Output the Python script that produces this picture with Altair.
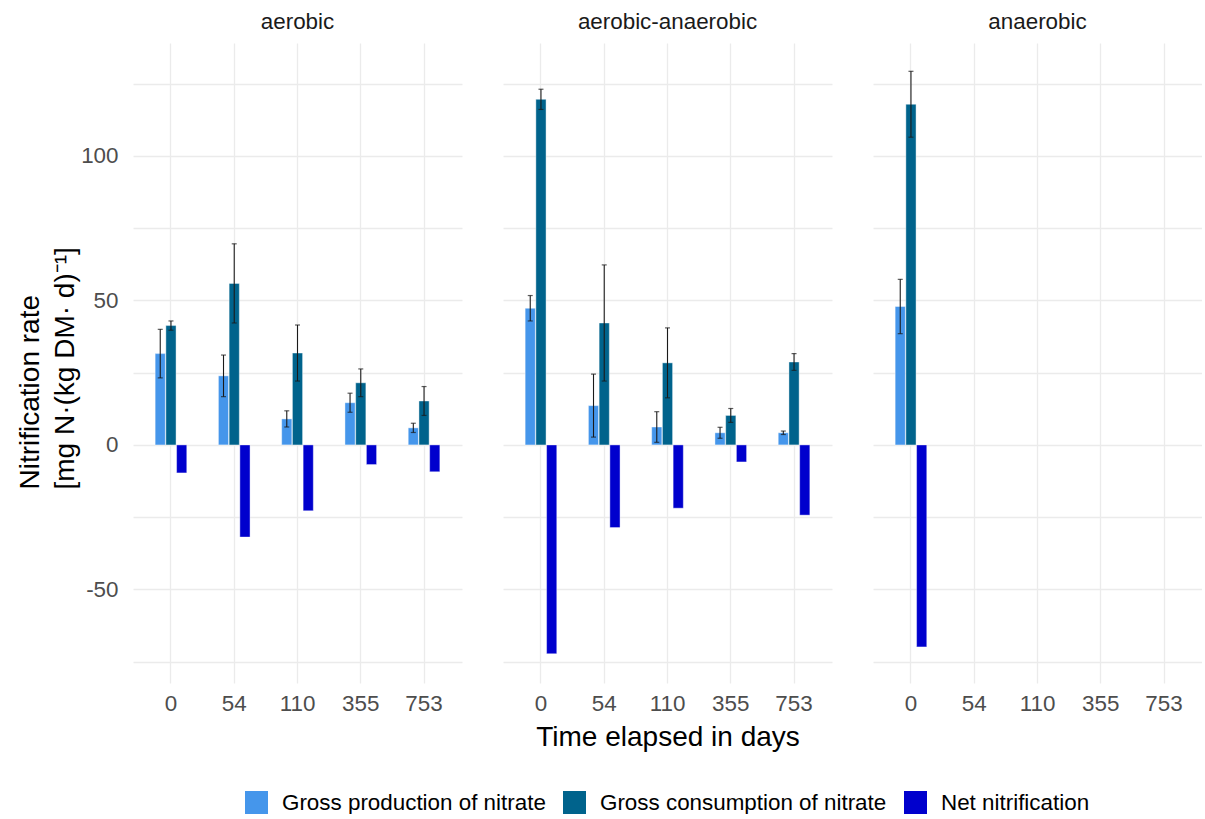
import altair as alt
import pandas as pd

treatments = ["aerobic", "aerobic-anaerobic", "anaerobic"]
days = ["0", "54", "110", "355", "753"]
series = ["Gross production of nitrate", "Gross consumption of nitrate", "Net nitrification"]
colors = ["#4596EB", "#00638C", "#0000CD"]

# aerobic
aer_prod = [31.6, 23.9, 9.0, 14.6, 5.9]
aer_prod_sd = [8.4, 7.2, 2.8, 3.3, 1.6]
aer_cons = [41.3, 55.9, 31.8, 21.5, 15.2]
aer_cons_sd = [1.6, 13.7, 9.7, 4.8, 5.0]
aer_net = [-9.7, -31.9, -22.8, -6.8, -9.3]

# aerobic-anaerobic
aa_prod = [47.3, 13.6, 6.2, 4.2, 4.2]
aa_prod_sd = [4.4, 10.9, 5.3, 1.9, 0.6]
aa_cons = [119.6, 42.2, 28.4, 10.2, 28.7]
aa_cons_sd = [3.5, 20.1, 12.1, 2.4, 2.9]
aa_net = [-72.3, -28.6, -21.9, -5.9, -24.3]

# anaerobic (day 0 only)
an_days = ["0"]
an_prod = [47.9]
an_prod_sd = [9.4]
an_cons = [117.9]
an_cons_sd = [11.4]
an_net = [-69.9]

rows = []
def add(treat, dlist, prod, psd, cons, csd, net):
    for i, d in enumerate(dlist):
        rows.append(dict(treatment=treat, day=d, variable=series[0], value=prod[i],
                         lo=prod[i] - psd[i], hi=prod[i] + psd[i]))
        rows.append(dict(treatment=treat, day=d, variable=series[1], value=cons[i],
                         lo=cons[i] - csd[i], hi=cons[i] + csd[i]))
        rows.append(dict(treatment=treat, day=d, variable=series[2], value=net[i],
                         lo=None, hi=None))

add(treatments[0], days, aer_prod, aer_prod_sd, aer_cons, aer_cons_sd, aer_net)
add(treatments[1], days, aa_prod, aa_prod_sd, aa_cons, aa_cons_sd, aa_net)
add(treatments[2], an_days, an_prod, an_prod_sd, an_cons, an_cons_sd, an_net)
df = pd.DataFrame(rows)

FONT = "Liberation Sans"
SMALL = 22.4
BIG = 28

x_enc = alt.X("day:N", scale=alt.Scale(domain=days, paddingInner=0.5, paddingOuter=0.35),
              axis=alt.Axis(title=None, labelAngle=0, ticks=False, domain=False,
                            labelFontSize=SMALL, labelColor="#4D4D4D", labelPadding=9,
                            grid=True, gridColor="#EBEBEB", gridWidth=1.3))
xo_enc = alt.XOffset("variable:N", scale=alt.Scale(domain=series, paddingInner=0.05))
y_scale = alt.Scale(domain=[-82.4, 139.1], nice=False, zero=False)
y_axis = alt.Axis(title=["Nitrification rate", "[mg N·(kg DM· d)⁻¹]"],
                  values=[-75, -50, -25, 0, 25, 50, 75, 100, 125],
                  labelExpr="datum.value % 50 == 0 ? toString(datum.value) : ''",
                  ticks=False, domain=False, labelFontSize=SMALL, labelColor="#4D4D4D",
                  labelPadding=15, titleFontSize=BIG, titleFontWeight="normal",
                  titleColor="#000000", titleAngle=270, titleAlign="left",
                  titleBaseline="alphabetic", titleX=-95, titleY=446, titleLineHeight=35,
                  grid=True, gridColor="#EBEBEB", gridWidth=1.3)

bars = alt.Chart().mark_bar(stroke="white", strokeWidth=0.6, strokeOpacity=0.7).encode(
    x=x_enc,
    xOffset=xo_enc,
    y=alt.Y("value:Q", scale=y_scale, axis=y_axis),
    color=alt.Color("variable:N", scale=alt.Scale(domain=series, range=colors),
                    legend=alt.Legend(title=None, orient="none", direction="horizontal",
                                      legendX=112, legendY=748, padding=0,
                                      symbolType="square", symbolSize=529,
                                      symbolStrokeWidth=0, labelFontSize=SMALL,
                                      labelColor="#000000", columnPadding=17,
                                      labelOffset=14, labelLimit=0)),
)

err = alt.Chart().transform_filter("datum.lo != null").mark_rule(
    color="#1A1A1A", strokeWidth=1.1).encode(
    x=alt.X("day:N"), xOffset=alt.XOffset("variable:N"),
    y=alt.Y("lo:Q"), y2="hi:Q")
cap_lo = alt.Chart().transform_filter("datum.lo != null").mark_tick(
    color="#1A1A1A", size=5, thickness=1.2, orient="horizontal").encode(
    x=alt.X("day:N"), xOffset=alt.XOffset("variable:N"), y=alt.Y("lo:Q"))
cap_hi = alt.Chart().transform_filter("datum.lo != null").mark_tick(
    color="#1A1A1A", size=5, thickness=1.2, orient="horizontal").encode(
    x=alt.X("day:N"), xOffset=alt.XOffset("variable:N"), y=alt.Y("hi:Q"))

layered = alt.layer(bars, err, cap_lo, cap_hi, data=df).properties(width=329, height=640)

chart = layered.facet(
    column=alt.Column("treatment:N", sort=treatments,
                      header=alt.Header(labelOrient="top", labelFontSize=SMALL,
                                        labelColor="#1A1A1A", labelPadding=10,
                                        labelFont=FONT,
                                        title="Time elapsed in days", titleOrient="bottom",
                                        titleFontSize=BIG, titleFontWeight="normal",
                                        titleColor="#000000", titlePadding=-1,
                                        titleFont=FONT)),
    spacing=41,
).configure(
    font=FONT, view=alt.ViewConfig(stroke=None)
).properties(padding={"left": 16, "top": 10, "right": 0, "bottom": 0})

chart.save("out.html", embed_options={"renderer": "svg", "actions": False})
